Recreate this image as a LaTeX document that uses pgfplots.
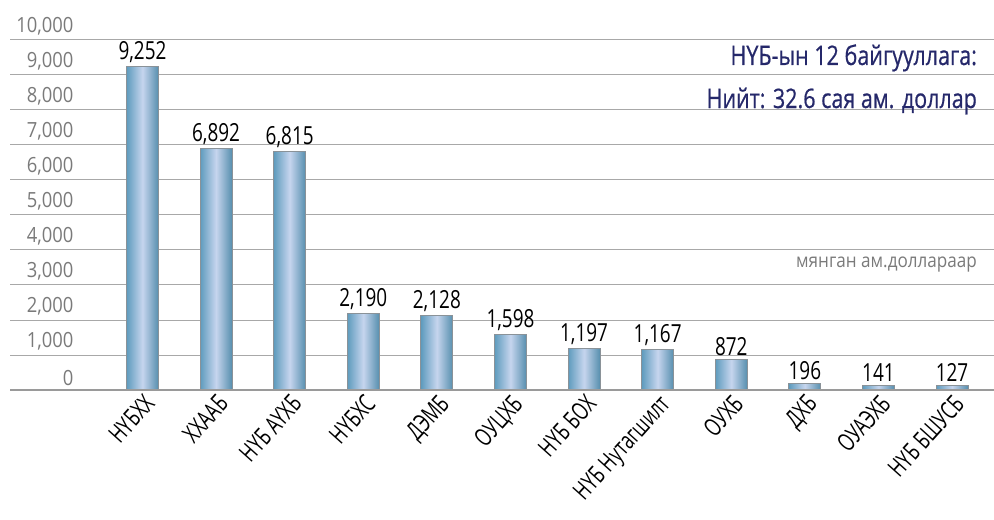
\documentclass[border=0pt]{standalone}
\usepackage{fontspec}
\setmainfont{Open Sans}
\newfontfamily\condfont[FakeStretch=0.76]{Open Sans}
\newfontfamily\labfont[FakeStretch=0.70]{Open Sans}
\newfontfamily\titlefont[FakeStretch=0.80, FakeBold=0.6]{Open Sans}
\newfontfamily\tickfont[FakeStretch=0.88]{Open Sans}
\usepackage{pgfplots}
\pgfplotsset{compat=1.18}

\definecolor{barside}{HTML}{5E9BBD}
\definecolor{barmid}{HTML}{C6D5EE}
\definecolor{baredge}{HTML}{8A9298}
\definecolor{gridgray}{HTML}{A8A8A8}
\definecolor{basegray}{HTML}{9A9A9A}
\definecolor{ticktext}{HTML}{7A7A7A}
\definecolor{navy}{HTML}{25286A}

\pgfplotsset{
  onebar/.style={ybar, bar width=32bp, bar shift=0pt,
    left color=barside, right color=barside!92!black, middle color=barmid,
    draw=baredge, line width=0.8bp,
    nodes near coords={\pgfmathprintnumber[fixed,1000 sep={,}]{\pgfplotspointmeta}},
    nodes near coords style={font=\condfont\fontsize{25}{25}\selectfont, text=black,
      /pgf/number format/assume math mode=true}},
}

\begin{document}
\begin{tikzpicture}
\begin{axis}[name=ax, at={(0,0)}, anchor=south west,
  scale only axis, width=984bp, height=350bp,
  xmin=-1.8, xmax=11.57, ymin=0, ymax=10000,
  xtick={0,...,11},
  xticklabels={НҮБХХ, ХХААБ, НҮБ АҮХБ, НҮБХС, ДЭМБ, ОУЦХБ, НҮБ БОХ,
    НҮБ Нутагшилт, ОУХБ, ДХБ, ОУАЭХБ, НҮБ БШУСБ},
  xticklabel style={font=\labfont\fontsize{25}{25}\selectfont, black,
    rotate=48, anchor=north east, inner sep=2bp},
  ytick={0,1000,...,10000},
  scaled y ticks=false,
  yticklabel style={font=\tickfont\fontsize{21}{21}\selectfont, text=ticktext,
    anchor=south east, xshift=67bp, yshift=1bp,
    /pgf/number format/.cd, fixed, 1000 sep={,}, assume math mode=true},
  ymajorgrids, grid style={gridgray, line width=1bp},
  axis line style={draw=none}, tick style={draw=none},
  clip=false,
]
  \addplot[onebar] coordinates {(0,9252)};
  \addplot[onebar] coordinates {(1,6892)};
  \addplot[onebar] coordinates {(2,6815)};
  \addplot[onebar] coordinates {(3,2190)};
  \addplot[onebar] coordinates {(4,2128)};
  \addplot[onebar] coordinates {(5,1598)};
  \addplot[onebar] coordinates {(6,1197)};
  \addplot[onebar] coordinates {(7,1167)};
  \addplot[onebar] coordinates {(8,872)};
  \addplot[onebar] coordinates {(9,196)};
  \addplot[onebar] coordinates {(10,141)};
  \addplot[onebar] coordinates {(11,127)};
  \draw[basegray, line width=2bp] (rel axis cs:0,0) -- (rel axis cs:1,0);
  \node[anchor=base east, inner sep=0, text=navy,
    font=\titlefont\fontsize{27}{27}\selectfont] at (axis cs:11.34,9286)
    {НҮБ-ын 12 байгууллага:};
  \node[anchor=base east, inner sep=0, text=navy,
    font=\titlefont\fontsize{27}{27}\selectfont] at (axis cs:11.34,8057)
    {Нийт: 32.6 сая ам. доллар};
  \node[anchor=base east, inner sep=0, text=ticktext,
    font=\tickfont\fontsize{19.5}{19.5}\selectfont] at (axis cs:11.34,3514)
    {мянган ам.доллараар};
\end{axis}
\pgfresetboundingbox
\path ([shift={(-10bp,-130bp)}]ax.south west) rectangle ([shift={(0bp,40bp)}]ax.north east);
\end{tikzpicture}
\end{document}
